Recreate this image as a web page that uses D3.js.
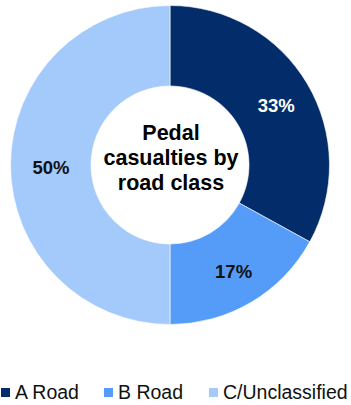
<!DOCTYPE html>
<html>
<head>
<meta charset="utf-8">
<script src="https://cdn.jsdelivr.net/npm/d3@7"></script>
<style>
  html, body { margin: 0; padding: 0; background: #fff; }
  svg { display: block; font-family: "Liberation Sans", Arial, sans-serif; }
</style>
</head>
<body>
<svg id="chart" width="351" height="405"></svg>
<script>
// Pedal casualties split by road class (percent of total)
const categories = ["A Road", "B Road", "C/Unclassified"];
const values = [33, 17, 50];
const colors = ["#022d6a", "#559cf8", "#a4cafc"];
const labelColors = ["#ffffff", "#111111", "#111111"];
const titleLines = ["Pedal", "casualties by", "road class"];

const svg = d3.select("#chart");
const cx = 170, cy = 165;
const outerR = 159.5, innerR = 79;

const pie = d3.pie().sort(null).value(d => d.value);
const arcs = pie(categories.map((c, i) => ({ name: c, value: values[i], i })));

const arc = d3.arc().innerRadius(innerR).outerRadius(outerR);
const labelArc = d3.arc().innerRadius(121).outerRadius(121);

const g = svg.append("g").attr("transform", `translate(${cx},${cy})`);

g.selectAll("path.slice")
  .data(arcs)
  .join("path")
  .attr("class", "slice")
  .attr("d", arc)
  .attr("fill", d => colors[d.data.i])
  .attr("stroke", "#ffffff")
  .attr("stroke-width", 0.6);

// Percentage labels, vertically centred on the slice centroid
g.selectAll("text.pct")
  .data(arcs)
  .join("text")
  .attr("class", "pct")
  .attr("x", d => labelArc.centroid(d)[0] + 2)
  .attr("y", d => labelArc.centroid(d)[1] + 9)
  .attr("text-anchor", "middle")
  .attr("font-size", "18.5px")
  .attr("font-weight", "bold")
  .attr("fill", d => labelColors[d.data.i])
  .text(d => d.data.value + "%");

// Centre title
const title = svg.append("text")
  .attr("text-anchor", "middle")
  .attr("font-size", "21.5px")
  .attr("font-weight", "bold")
  .attr("fill", "#000");
titleLines.forEach((t, i) => {
  title.append("tspan")
    .attr("x", 171)
    .attr("y", 139.5 + i * 25)
    .text(t);
});

// Legend
const legendX = [1, 104, 209];
const legend = svg.append("g");
categories.forEach((c, i) => {
  legend.append("rect")
    .attr("x", legendX[i])
    .attr("y", 388)
    .attr("width", 9)
    .attr("height", 9)
    .attr("fill", colors[i]);
  legend.append("text")
    .attr("x", legendX[i] + 14)
    .attr("y", 398.5)
    .attr("font-size", "19.5px")
    .attr("fill", "#111")
    .text(c);
});
</script>
</body>
</html>
